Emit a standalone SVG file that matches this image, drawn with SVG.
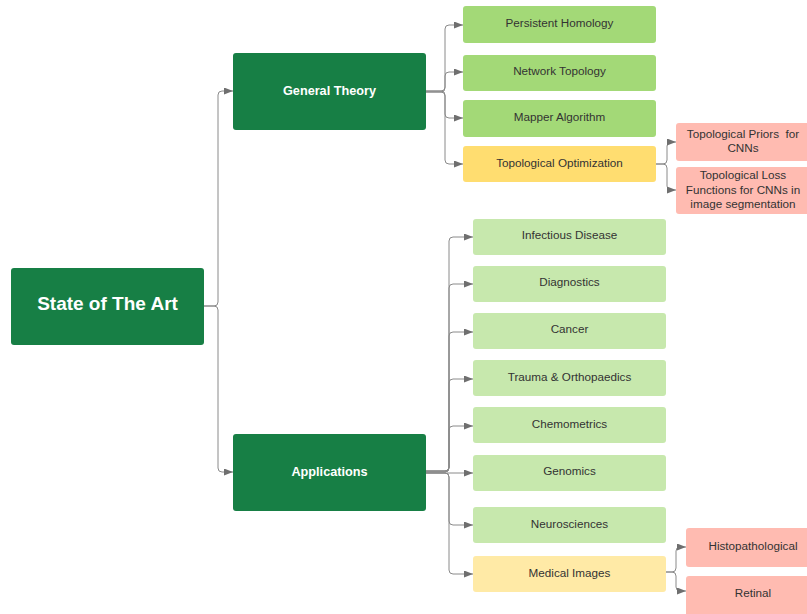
<svg xmlns="http://www.w3.org/2000/svg" width="807" height="614" viewBox="0 0 807 614">
  <defs>
    <marker id="arr" markerWidth="9" markerHeight="7" refX="9" refY="3.5" orient="auto" markerUnits="userSpaceOnUse">
      <path d="M0,0 L9,3.5 L0,7 z" fill="#6f6f6f"/>
    </marker>
    <style>
      .box { stroke: none; }
      .dark { fill: #177f45; }
      .g1 { fill: #a3d977; }
      .g2 { fill: #c7e8ad; }
      .y1 { fill: #ffdd70; }
      .y2 { fill: #ffeaa6; }
      .pk { fill: #ffbbb1; }
      .t { font-family: "Liberation Sans", Arial, sans-serif; font-size: 11.7px; fill: #333333; text-anchor: middle; white-space: pre; }
      .tb { font-family: "Liberation Sans", Arial, sans-serif; font-size: 12.7px; font-weight: bold; fill: #ffffff; text-anchor: middle; }
      .troot { font-family: "Liberation Sans", Arial, sans-serif; font-size: 19px; font-weight: bold; fill: #ffffff; text-anchor: middle; }
      .c { fill: none; stroke: #8a8a8a; stroke-width: 1; marker-end: url(#arr); }
    </style>
  </defs>

  <g id="connectors">
    <!-- root to level 1 -->
    <path class="c" d="M204,306 H214 Q218,306 218,302 V95 Q218,91 222,91 H233"/>
    <path class="c" d="M204,306 H214 Q218,306 218,310 V468 Q218,472 222,472 H233"/>
    <!-- General Theory children -->
    <path class="c" d="M426,91 H441 Q445,91 445,87 V29 Q445,25 449,25 H463"/>
    <path class="c" d="M426,92 H441 Q445,92 445,88 V76 Q445,72 449,72 H463"/>
    <path class="c" d="M426,91 H441 Q445,91 445,95 V114 Q445,118 449,118 H463"/>
    <path class="c" d="M426,92 H441 Q445,92 445,96 V160 Q445,164 449,164 H463"/>
    <!-- Topological Optimization children -->
    <path class="c" d="M656,164 H663 Q667,164 667,160 V146 Q667,142 671,142 H676"/>
    <path class="c" d="M656,164 H663 Q667,164 667,168 V186 Q667,190 671,190 H676"/>
    <!-- Applications children -->
    <path class="c" d="M426,471 H445 Q449,471 449,467 V241 Q449,237 453,237 H473"/>
    <path class="c" d="M426,471 H445 Q449,471 449,467 V288 Q449,284 453,284 H473"/>
    <path class="c" d="M426,471 H445 Q449,471 449,467 V336 Q449,332 453,332 H473"/>
    <path class="c" d="M426,472 H445 Q449,472 449,468 V383 Q449,379 453,379 H473"/>
    <path class="c" d="M426,472 H445 Q449,472 449,468 V430 Q449,426 453,426 H473"/>
    <path class="c" d="M426,473 H473"/>
    <path class="c" d="M426,473 H445 Q449,473 449,477 V521 Q449,525 453,525 H473"/>
    <path class="c" d="M426,473 H445 Q449,473 449,477 V570 Q449,574 453,574 H473"/>
    <!-- Medical Images children -->
    <path class="c" d="M666,572 H672 Q676,572 676,568 V551 Q676,547 680,547 H686"/>
    <path class="c" d="M666,572 H672 Q676,572 676,576 V587 Q676,591 680,591 H686"/>
  </g>

  <g id="root">
    <rect class="box dark" x="11" y="268" width="193" height="77" rx="3"/>
    <text class="troot" x="107.5" y="310">State of The Art</text>
  </g>

  <g id="general-theory">
    <rect class="box dark" x="233" y="53" width="193" height="77" rx="3"/>
    <text class="tb" x="329.5" y="95">General Theory</text>
  </g>
  <g id="applications">
    <rect class="box dark" x="233" y="434" width="193" height="77" rx="3"/>
    <text class="tb" x="329.5" y="476">Applications</text>
  </g>

  <g id="persistent-homology">
    <rect class="box g1" x="463" y="6" width="193" height="37" rx="3"/>
    <text class="t" x="559.5" y="27.2">Persistent Homology</text>
  </g>
  <g id="network-topology">
    <rect class="box g1" x="463" y="55" width="193" height="36" rx="3"/>
    <text class="t" x="559.5" y="75.2">Network Topology</text>
  </g>
  <g id="mapper-algorithm">
    <rect class="box g1" x="463" y="100" width="193" height="37" rx="3"/>
    <text class="t" x="559.5" y="121">Mapper Algorithm</text>
  </g>
  <g id="topological-optimization">
    <rect class="box y1" x="463" y="146" width="193" height="36" rx="3"/>
    <text class="t" x="559.5" y="166.5">Topological Optimization</text>
  </g>

  <g id="topological-priors">
    <rect class="box pk" x="676" y="123" width="140" height="38" rx="3"/>
    <text class="t" x="743" y="138.2">Topological Priors  for</text>
    <text class="t" x="743" y="152">CNNs</text>
  </g>
  <g id="topological-loss">
    <rect class="box pk" x="676" y="167" width="140" height="47" rx="3"/>
    <text class="t" x="743" y="179.2">Topological Loss</text>
    <text class="t" x="743" y="193.5">Functions for CNNs in</text>
    <text class="t" x="743" y="207.5">image segmentation</text>
  </g>

  <g id="infectious-disease">
    <rect class="box g2" x="473" y="219" width="193" height="36" rx="3"/>
    <text class="t" x="569.5" y="239.2">Infectious Disease</text>
  </g>
  <g id="diagnostics">
    <rect class="box g2" x="473" y="266" width="193" height="36" rx="3"/>
    <text class="t" x="569.5" y="286.2">Diagnostics</text>
  </g>
  <g id="cancer">
    <rect class="box g2" x="473" y="313" width="193" height="36" rx="3"/>
    <text class="t" x="569.5" y="333.2">Cancer</text>
  </g>
  <g id="trauma-orthopaedics">
    <rect class="box g2" x="473" y="360" width="193" height="36" rx="3"/>
    <text class="t" x="569.5" y="381.2">Trauma &amp; Orthopaedics</text>
  </g>
  <g id="chemometrics">
    <rect class="box g2" x="473" y="407" width="193" height="36" rx="3"/>
    <text class="t" x="569.5" y="428.2">Chemometrics</text>
  </g>
  <g id="genomics">
    <rect class="box g2" x="473" y="455" width="193" height="36" rx="3"/>
    <text class="t" x="569.5" y="475.2">Genomics</text>
  </g>
  <g id="neurosciences">
    <rect class="box g2" x="473" y="507" width="193" height="36" rx="3"/>
    <text class="t" x="569.5" y="527.5">Neurosciences</text>
  </g>
  <g id="medical-images">
    <rect class="box y2" x="473" y="556" width="193" height="36" rx="3"/>
    <text class="t" x="569.5" y="576.5">Medical Images</text>
  </g>

  <g id="histopathological">
    <rect class="box pk" x="686" y="528" width="140" height="39" rx="3"/>
    <text class="t" x="753" y="549.5">Histopathological</text>
  </g>
  <g id="retinal">
    <rect class="box pk" x="686" y="576" width="140" height="40" rx="3"/>
    <text class="t" x="753" y="597.2">Retinal</text>
  </g>
</svg>
